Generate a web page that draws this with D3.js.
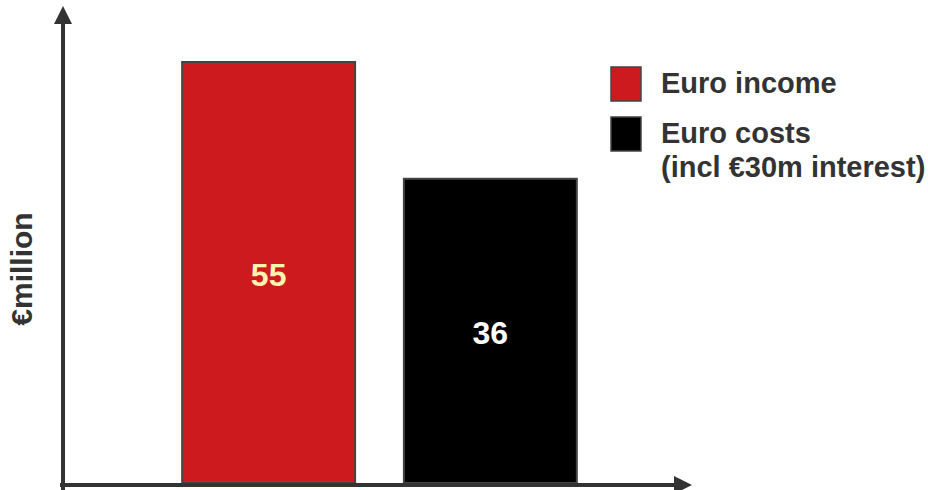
<!DOCTYPE html>
<html>
<head>
<meta charset="utf-8">
<script src="https://cdn.jsdelivr.net/npm/d3@7"></script>
<style>
  body { margin: 0; background: #fff; }
  svg { display: block; font-family: Arial, "Liberation Sans", sans-serif; font-weight: bold; }
</style>
</head>
<body>
<svg width="928" height="490"></svg>
<script>
// data
var categories = ["Euro income", "Euro costs"];
var values = [55, 36];
var legendLines = [["Euro income"], ["Euro costs", "(incl €30m interest)"]];
var barColours = ["#cc1a1f", "#000000"];
var labelColours = ["#fff3b0", "#ffffff"];

var svg = d3.select("svg"),
    width = +svg.attr("width"),
    height = +svg.attr("height");

var axisColour = "#333333";

// scales (slide had no zero baseline, bars only roughly to scale)
var x = d3.scaleBand()
    .domain(categories)
    .range([160, 599])
    .paddingInner(0.22)
    .paddingOuter(0.1);

var y = d3.scaleLinear()
    .domain([-13.5, 55])
    .range([483, 62]);

// bars
svg.selectAll("rect.bar")
  .data(values)
  .enter()
  .append("rect")
    .attr("class", "bar")
    .attr("x", (d, i) => x(categories[i]))
    .attr("y", d => y(d))
    .attr("width", x.bandwidth())
    .attr("height", d => y.range()[0] - y(d))
    .style("fill", (d, i) => barColours[i])
    .style("stroke", "#444")
    .style("stroke-width", 2);

// value labels
svg.selectAll("text.val")
  .data(values)
  .enter()
  .append("text")
    .attr("class", "val")
    .attr("x", (d, i) => x(categories[i]) + x.bandwidth() / 2)
    .attr("y", d => (y(d) + y.range()[0]) / 2 + 13)
    .attr("text-anchor", "middle")
    .style("font-size", "32px")
    .style("fill", (d, i) => labelColours[i])
    .text(d => d);

// axes with arrow heads
svg.append("line")
    .attr("x1", 63).attr("y1", 492)
    .attr("x2", 63).attr("y2", 20)
    .style("stroke", axisColour)
    .style("stroke-width", 4);
svg.append("path")
    .attr("d", "M54,24 L63,6 L72,24 Z")
    .style("fill", axisColour);

svg.append("line")
    .attr("x1", 60).attr("y1", 485)
    .attr("x2", 678).attr("y2", 485)
    .style("stroke", axisColour)
    .style("stroke-width", 4);
svg.append("path")
    .attr("d", "M674,476 L692,485 L674,494 Z")
    .style("fill", axisColour);

// y label
svg.append("text")
    .attr("transform", "translate(32,269) rotate(-90)")
    .attr("text-anchor", "middle")
    .style("font-size", "30px")
    .style("fill", axisColour)
    .text("€million");

// legend
var legend = svg.selectAll("g.legend")
  .data(legendLines)
  .enter()
  .append("g")
    .attr("class", "legend")
    .attr("transform", (d, i) => "translate(611," + (67 + i * 50) + ")");

legend.append("rect")
    .attr("width", 30)
    .attr("height", 34)
    .style("fill", (d, i) => barColours[i])
    .style("stroke", "#444")
    .style("stroke-width", 1.5);

legend.each(function(lines) {
  var t = d3.select(this).append("text")
      .attr("x", 50)
      .attr("y", 26)
      .style("font-size", "29px")
      .style("fill", axisColour);
  lines.forEach((l, j) => {
    t.append("tspan")
        .attr("x", 50)
        .attr("dy", j === 0 ? 0 : 34)
        .text(l);
  });
});
</script>
</body>
</html>
